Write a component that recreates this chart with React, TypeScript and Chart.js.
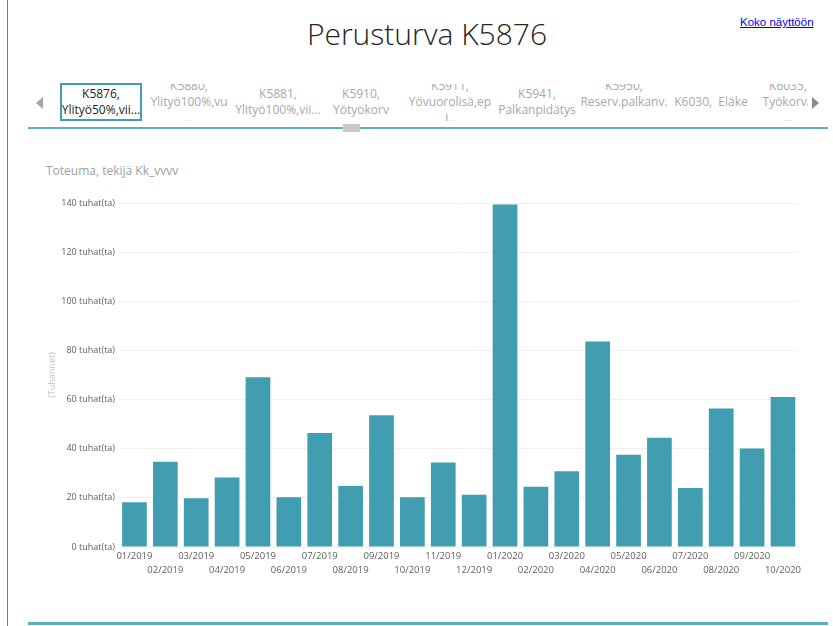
import React, { useEffect, useRef } from "react";
import { Chart, registerables } from "chart.js";

Chart.register(...registerables);

const categories = [
  "01/2019", "02/2019", "03/2019", "04/2019", "05/2019", "06/2019",
  "07/2019", "08/2019", "09/2019", "10/2019", "11/2019", "12/2019",
  "01/2020", "02/2020", "03/2020", "04/2020", "05/2020", "06/2020",
  "07/2020", "08/2020", "09/2020", "10/2020",
];

// Toteuma, thousands
const values = [
  18.2, 34.7, 19.8, 28.3, 69.1, 20.2,
  46.4, 24.8, 53.6, 20.2, 34.4, 21.3,
  139.4, 24.5, 30.8, 83.6, 37.5, 44.5,
  24.0, 56.4, 40.1, 61.0,
];

const yMax = 140;
const yStep = 20;
const yTickSuffix = " tuhat(ta)";

const tabLabels: string[][] = [
  ["K5876,", "Ylityö50%,vii..."],
  ["K5880,", "Ylityö100%,vu", ".."],
  ["K5881,", "Ylityö100%,vii..."],
  ["K5910,", "Yötyökorv"],
  ["K5911,", "Yövuorolisä,ep", "i.."],
  ["K5941,", "Palkanpidätys"],
  ["K5950,", "Reserv.palkanv.", ""],
  ["K6030,  Eläke"],
  ["K6035,", "Työkorva", "..."],
];
const tabCenters = [101, 189, 278, 361, 450, 537, 624, 711, 788];

const FONT = "'Open Sans', 'Noto Sans', sans-serif";
const TEAL = "#419EB1";

export default function App() {
  const canvasRef = useRef<HTMLCanvasElement | null>(null);

  useEffect(() => {
    if (!canvasRef.current) return;
    const chart = new Chart(canvasRef.current, {
      type: "bar",
      data: {
        labels: categories,
        datasets: [
          {
            data: values,
            backgroundColor: TEAL,
            barPercentage: 0.8,
            categoryPercentage: 1,
          },
        ],
      },
      options: {
        animation: false,
        responsive: false,
        maintainAspectRatio: false,
        layout: { padding: { top: 13, right: 0, left: 0, bottom: 0 } },
        plugins: {
          legend: { display: false },
          tooltip: { enabled: false },
        },
        scales: {
          x: {
            grid: { display: false, drawTicks: false },
            border: { display: false },
            ticks: {
              autoSkip: false,
              maxRotation: 0,
              minRotation: 0,
              padding: 3,
              color: "#605E5C",
              font: { family: FONT, size: 9.5, lineHeight: 1.42 },
              callback: (_v: any, i: number) =>
                i % 2 ? ["", categories[i]] : categories[i],
            },
            afterFit: (s: any) => {
              s.height = 40;
            },
          },
          y: {
            min: 0,
            max: yMax,
            ticks: {
              stepSize: yStep,
              padding: 4,
              color: "#605E5C",
              font: { family: FONT, size: 9 },
              callback: (v: any) => v + yTickSuffix,
            },
            grid: { color: "#F0F0F0", drawTicks: false },
            border: { display: false },
            title: {
              display: true,
              text: "(Tuhannet)",
              color: "#C0C0C0",
              font: { family: FONT, size: 9 },
              padding: { top: 27, bottom: 0 },
            },
            afterFit: (s: any) => {
              s.width = 99;
            },
          },
        },
      },
    } as any);
    return () => chart.destroy();
  }, []);

  return (
    <div
      style={{
        position: "absolute",
        left: 0,
        top: 0,
        width: 833,
        height: 626,
        background: "#fff",
        overflow: "hidden",
        fontFamily: FONT,
      }}
    >
      {/* left border */}
      <div style={{ position: "absolute", left: 7, top: 0, width: 1, height: 626, background: "#7A7A7A" }} />

      {/* title */}
      <div
        style={{
          position: "absolute",
          left: 0,
          width: 854,
          top: 14,
          lineHeight: "40px",
          textAlign: "center",
          fontSize: 30,
          fontWeight: 300,
          color: "#252423",
        }}
      >
        Perusturva K5876
      </div>

      {/* link */}
      <a
        href="#"
        style={{
          position: "absolute",
          left: 740,
          top: 14,
          fontSize: 11.5,
          lineHeight: "16px",
          color: "#0000EE",
          textDecoration: "underline",
          fontFamily: "'Liberation Sans', Arial, sans-serif",
        }}
      >
        Koko näyttöön
      </a>

      {/* arrows */}
      <div
        style={{
          position: "absolute",
          left: 36,
          top: 97,
          width: 0,
          height: 0,
          borderTop: "6px solid transparent",
          borderBottom: "6px solid transparent",
          borderRight: "7px solid #A6A6A6",
        }}
      />
      <div
        style={{
          position: "absolute",
          left: 812,
          top: 97,
          width: 0,
          height: 0,
          borderTop: "6px solid transparent",
          borderBottom: "6px solid transparent",
          borderLeft: "7px solid #8A8A8A",
        }}
      />

      {/* tabs */}
      <div
        style={{
          position: "absolute",
          left: 50,
          top: 84,
          width: 758,
          height: 37,
          overflow: "hidden",
        }}
      >
        {tabLabels.map((lines, i) => (
          <div
            key={i}
            style={{
              position: "absolute",
              left: tabCenters[i] - 50 - 60,
              width: 120,
              top: 18 - (lines.length * 16) / 2,
              textAlign: "center",
              fontSize: 12,
              lineHeight: "16px",
              color: i === 0 ? "#252423" : "#A8A8A8",
              whiteSpace: "pre",
            }}
          >
            {lines.map((l, j) => (
              <div key={j}>{l || "\u00a0"}</div>
            ))}
          </div>
        ))}
      </div>
      {/* selected tab border */}
      <div
        style={{
          position: "absolute",
          left: 60,
          top: 83,
          width: 78,
          height: 34,
          border: "2px solid " + TEAL,
        }}
      />

      {/* tab underline + scroll handle */}
      <div style={{ position: "absolute", left: 28, top: 127, width: 800, height: 2, background: "#5AAFC0" }} />
      <div style={{ position: "absolute", left: 343, top: 124, width: 17, height: 8, background: "#C8C8C8" }} />

      {/* subtitle */}
      <div
        style={{
          position: "absolute",
          left: 46,
          top: 162,
          fontSize: 12,
          lineHeight: "18px",
          color: "#A0A0A0",
        }}
      >
        Toteuma, tekijä Kk_vvvv
      </div>

      {/* chart */}
      <canvas
        ref={canvasRef}
        width={784}
        height={397}
        style={{ position: "absolute", left: 20, top: 190, width: 784, height: 397 }}
      />

      {/* bottom line */}
      <div style={{ position: "absolute", left: 28, top: 622, width: 800, height: 3, background: "#5AAFC0" }} />
    </div>
  );
}
